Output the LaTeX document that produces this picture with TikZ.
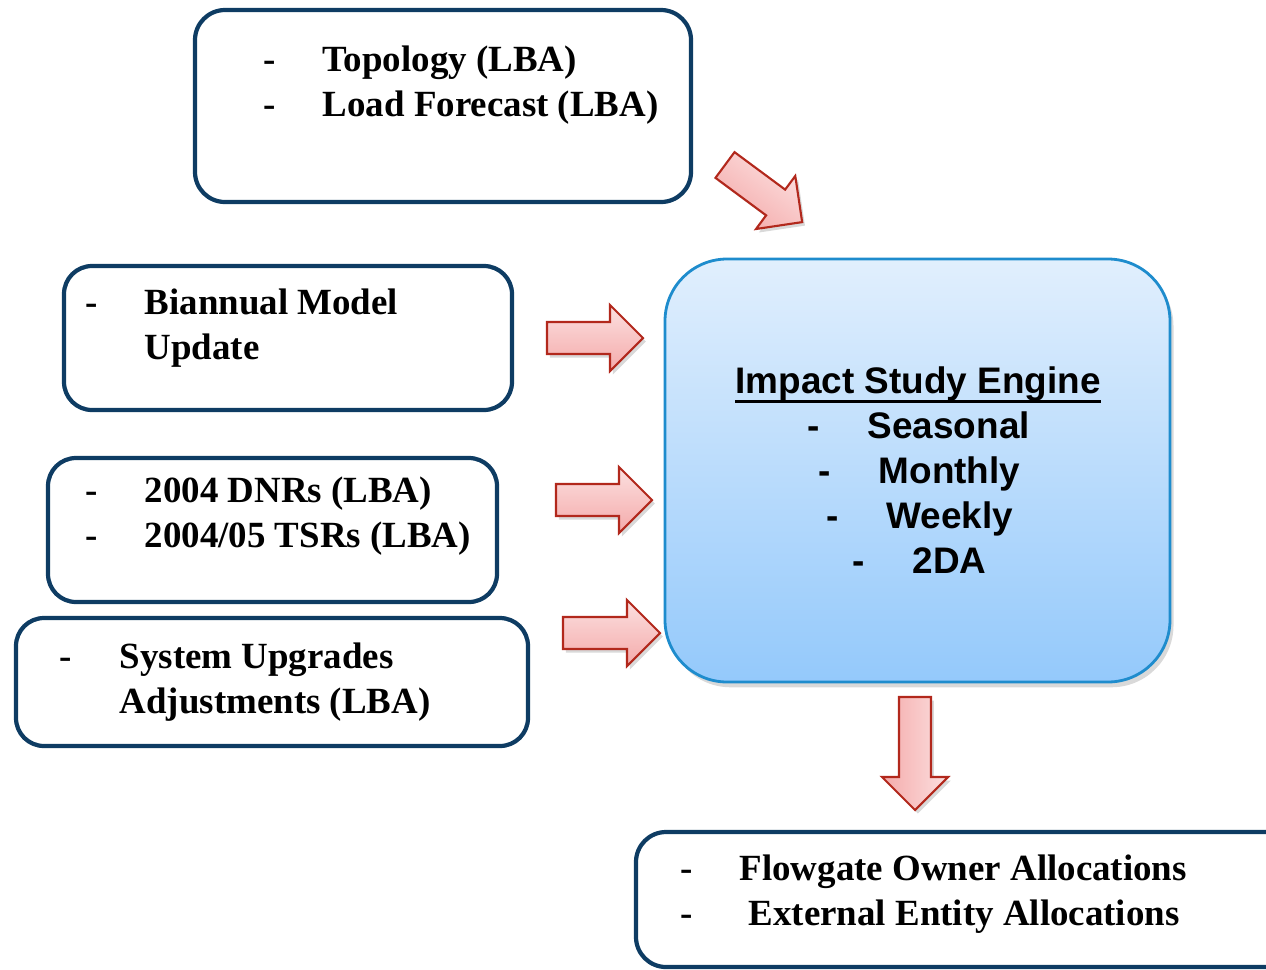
\documentclass[tikz,border=0pt]{standalone}
\usepackage{fontspec}
\setmainfont{Liberation Serif}
\setsansfont{Liberation Sans}
\usetikzlibrary{shadows}
\definecolor{boxblue}{RGB}{14,60,99}
\definecolor{engblue}{RGB}{30,140,205}
\definecolor{engtop}{RGB}{225,239,253}
\definecolor{engbot}{RGB}{148,201,251}
\definecolor{arrred}{RGB}{178,40,28}
\definecolor{arrlight}{RGB}{252,224,224}
\definecolor{arrdark}{RGB}{244,170,170}
\def\blockarrow[#1](#2)(#3){\path[blockarrow, shading angle=#1, rotate around={#1:(#2)}] (#2) ++(0,-16) -- ++(#3-33,0) -- ++(0,-17) -- ++(33,33) -- ++(-33,33) -- ++(0,-17) -- ++(-#3+33,0) -- cycle;}
\def\thickul#1{\setbox0\hbox{#1}\rlap{\raisebox{-2.9pt}{\rule{\wd0}{0.9pt}}}\box0}
\tikzset{
  inbox/.style={line width=1.2pt, draw=boxblue, rounded corners=0.28cm},
  item/.style={font=\bfseries\fontsize{10.5}{12.6}\selectfont, inner sep=0pt, anchor=base west},
  engitem/.style={font=\sffamily\bfseries\fontsize{10.5}{12.6}\selectfont, inner sep=0pt, anchor=base west},
  blockarrow/.style={draw=arrred, line width=0.6pt, top color=arrlight, bottom color=arrdark,
    drop shadow={opacity=0.3, shadow xshift=0.8pt, shadow yshift=-1pt}},
}

\begin{document}
\begin{tikzpicture}[x=0.01cm, y=-0.01cm]
			%%%%% START %%%%%
			\useasboundingbox (0,0) rectangle (1266,969);
			\clip (0,0) rectangle (1266,969);
			
			% input boxes
			\draw[inbox, rounded corners=0.3cm] (195,10) rectangle (691,202);
			\draw[inbox] (64,266) rectangle (512,410);
			\draw[inbox] (48,458) rectangle (497,602);
			\draw[inbox] (16,618) rectangle (528,746);
			\draw[inbox, rounded corners=0.3cm] (636,832) rectangle (1295,967);
			
			% engine
			\draw[line width=0.8pt, draw=engblue, top color=engtop, bottom color=engbot, rounded corners=0.62cm,
			      drop shadow={opacity=0.3, shadow xshift=1pt, shadow yshift=-1.5pt}] (665,259) rectangle (1170,682);
			
			% arrows
			\blockarrow[-36.5](725,165)(96)
			\blockarrow[0](547,338)(96)
			\blockarrow[0](556,500)(96)
			\blockarrow[0](563,633)(97)
			\blockarrow[-90](915,697)(113)
			
			% texts
			\node[item] (d1) at (263,71) {-};
			\node[item] (topo) at (322,71) {Topology (LBA)};
			\node[item] (d2) at (263,116) {-};
			\node[item] (load) at (322,116) {Load Forecast (LBA)};
			
			\node[item] (d3) at (85,314) {-};
			\node[item] (model) at (144,314) {Biannual Model};
			\node[item] (update) at (144,359) {Update};
			
			\node[item] (d4) at (85,502) {-};
			\node[item] (dnr) at (144,502) {2004 DNRs (LBA)};
			\node[item] (d5) at (85,547) {-};
			\node[item] (tsr) at (144,547) {2004/05 TSRs (LBA)};
			
			\node[item] (d6) at (59,668) {-};
			\node[item] (upg) at (119,668) {System Upgrades};
			\node[item] (adj) at (119,713) {Adjustments (LBA)};
			
			\node[engitem, anchor=base] (eng) at (918,393) {\thickul{Impact Study Engine}};
			\node[engitem] (d7) at (807,438) {-};
			\node[engitem] (seas) at (867,438) {Seasonal};
			\node[engitem] (d8) at (818,483) {-};
			\node[engitem] (month) at (878,483) {Monthly};
			\node[engitem] (d9) at (826,528) {-};
			\node[engitem] (week) at (886,528) {Weekly};
			\node[engitem] (d10) at (852,573) {-};
			\node[engitem] (twoda) at (912,573) {2DA};
			
			\node[item] (d11) at (680,880) {-};
			\node[item] (owner) at (739,880) {Flowgate Owner Allocations};
			\node[item] (d12) at (680,925) {-};
			\node[item] (ext) at (748,925) {External Entity Allocations};
			
			%%%%% END %%%%%
\end{tikzpicture}
\end{document}
